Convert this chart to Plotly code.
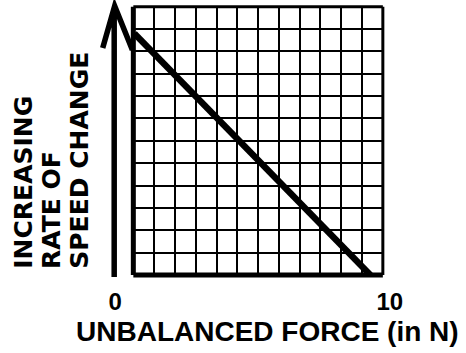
import plotly.graph_objects as go

# ---- data -------------------------------------------------------------
# graph-paper cells (12 x 12) and the straight-line relation drawn on them
grid_cells = 12
line_x = [0.05, 11.4]        # cell units along the force direction
line_y = [10.8, 0.0]         # cell units along the rate-of-change direction

force_ticks = [0, 10]
force_tick_text = ["0", "10"]

y_title_lines = ["INCREASING", "RATE OF", "SPEED CHANGE"]
x_title = "UNBALANCED FORCE (in N)"

# ---- canvas -----------------------------------------------------------
W, H = 466, 353
FONT = "Liberation Sans, Arial, Helvetica, sans-serif"
WIDE_FONT = "DejaVu Sans, Verdana, sans-serif"


def px(x):
    return x / W


def py(y):
    return 1 - y / H


grid_left, grid_right = 132, 392.7
grid_top, grid_bottom = 6.7, 275

fig = go.Figure()

fig.add_trace(go.Scatter(
    x=line_x, y=line_y, mode="lines",
    line=dict(color="black", width=6.5),
    hoverinfo="skip", showlegend=False,
))
# carries the force scale below the grid
fig.add_trace(go.Scatter(
    x=[], y=[], xaxis="x2", yaxis="y2", showlegend=False, hoverinfo="skip",
))

grid_axis = dict(
    range=[0, grid_cells], dtick=1, tick0=0,
    showgrid=True, gridcolor="black", gridwidth=2,
    showticklabels=False, ticks="", zeroline=False, showline=False,
    fixedrange=True,
)

# heavier frame on the left and bottom, lighter on top and right
frame = [
    dict(x0=0, x1=0, y0=0, y1=1, width=5),
    dict(x0=0, x1=1, y0=0, y1=0, width=5),
    dict(x0=0, x1=1, y0=1, y1=1, width=3),
    dict(x0=1, x1=1, y0=0, y1=1, width=3),
]
shapes = [
    dict(type="line", xref="x domain", yref="y domain",
         x0=f["x0"], x1=f["x1"], y0=f["y0"], y1=f["y1"],
         line=dict(color="black", width=f["width"]))
    for f in frame
]

# upward arrow standing in for the vertical axis
arrow_path = (
    f"M {px(112)},{py(277)} L {px(112)},{py(9)} "
    f"M {px(100)},{py(48)} L {px(112.5)},{py(6)} L {px(131)},{py(50)}"
)
shapes.append(dict(type="path", xref="paper", yref="paper", path=arrow_path,
                   line=dict(color="black", width=5.5)))

# rotated axis title, one line per annotation so the spacing can be set
y_title_x = [17, 46, 75.5]
annotations = [
    dict(
        text=txt, textangle=-90,
        xref="paper", yref="paper", x=px(xc), y=py(271),
        xanchor="center", yanchor="bottom",
        showarrow=False,
        font=dict(family=WIDE_FONT, size=25, color="black", weight="bold"),
    )
    for txt, xc in zip(y_title_lines, y_title_x)
]
annotations.append(dict(
    text=x_title, xref="paper", yref="paper",
    x=px(272.5), y=py(331), xanchor="center", yanchor="middle",
    showarrow=False,
    font=dict(family=FONT, size=28, color="black", weight="bold"),
))

fig.update_layout(
    width=W, height=H,
    margin=dict(l=0, r=0, t=0, b=0),
    paper_bgcolor="white", plot_bgcolor="rgba(0,0,0,0)",
    xaxis=dict(domain=[px(grid_left), px(grid_right)], **grid_axis),
    yaxis=dict(domain=[py(grid_bottom), py(grid_top)], **grid_axis),
    xaxis2=dict(
        domain=[px(113), px(400)], anchor="y2", range=[0, 10],
        tickvals=force_ticks, ticktext=force_tick_text,
        showgrid=False, showline=False, zeroline=False, ticks="",
        ticklabelstandoff=10,
        tickfont=dict(family=FONT, size=24, color="black", weight="bold"),
        fixedrange=True,
    ),
    yaxis2=dict(
        domain=[py(grid_bottom), py(grid_bottom - 2)], anchor="x2",
        visible=False, showgrid=False, fixedrange=True,
    ),
    shapes=shapes,
    annotations=annotations,
)

fig.write_html("out.html")
